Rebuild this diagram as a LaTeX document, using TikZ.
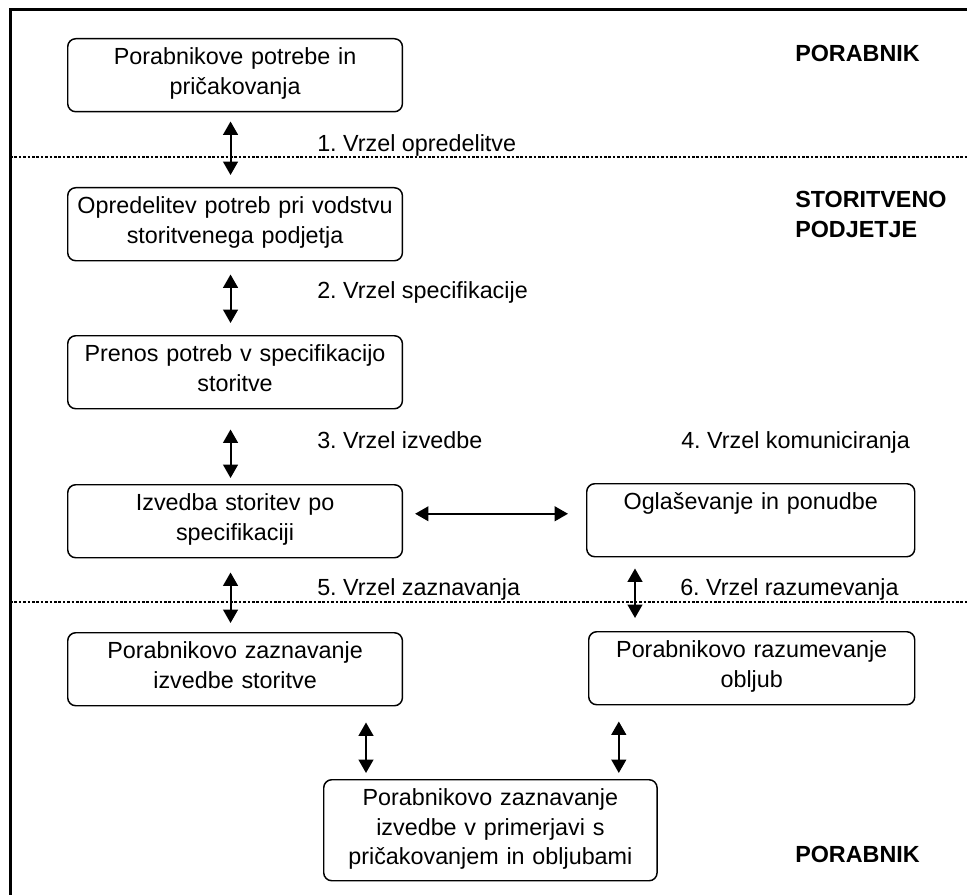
\documentclass[tikz,border=0pt]{standalone}
\usepackage{fontspec}
\setmainfont{Liberation Sans}
\usetikzlibrary{arrows.meta}
\frenchspacing

\tikzset{
  stage/.style={draw, rounded corners=6pt, line width=1.1pt, anchor=north west,
    inner xsep=0pt, inner ysep=0pt, align=center, text width=251pt,
    text height=19.5pt, text depth=35.25pt, font=\fontsize{17.5}{22}\selectfont},
  gaplabel/.style={anchor=base west, inner sep=0pt, font=\fontsize{17.5}{22}\selectfont},
  side/.style={anchor=base west, align=left, text width=140pt, inner sep=0pt,
    font=\fontsize{17.5}{23}\selectfont\bfseries},
  gap/.style={{Triangle[width=11pt,length=10pt]}-{Triangle[width=11pt,length=10pt]}, line width=1.5pt},
  boundary/.style={line width=2pt, dash pattern=on 2pt off 1.3pt},
}

\begin{document}
\begin{tikzpicture}[x=0.75pt, y=-0.75pt]
  \useasboundingbox (0,0) rectangle (967,895);

  % frame and the two dotted boundaries
  \draw[line width=2.25pt] (10,895) -- (10,10) -- (967,10);
  \draw[boundary] (10,157) -- (967,157);
  \draw[boundary] (10,602) -- (967,602);

  % left column
  \node[stage] (b1) at (67,38) {Porabnikove potrebe in\\pričakovanja};
  \node[stage] (b2) at (67,187) {Opredelitev potreb pri vodstvu\\storitvenega podjetja};
  \node[stage] (b3) at (67,335) {Prenos potreb v specifikacijo\\storitve};
  \node[stage] (b4) at (67,484) {Izvedba storitev po\\specifikaciji};
  \node[stage] (b5) at (67,632) {Porabnikovo zaznavanje\\izvedbe storitve};

  % right column and bottom
  \node[stage, text width=246pt] (b6) at (586,483) {Oglaševanje in ponudbe};
  \node[stage, text width=244.5pt] (b7) at (588,631) {Porabnikovo razumevanje\\obljub};
  \node[stage, text width=250pt, text depth=56.25pt] (b8) at (323,779)
    {Porabnikovo zaznavanje\\izvedbe v primerjavi s\\pričakovanjem in obljubami};

  % gap labels
  \node[gaplabel] (g1) at (317,152) {1. Vrzel opredelitve};
  \node[gaplabel] (g2) at (317,298) {2. Vrzel specifikacije};
  \node[gaplabel] (g3) at (317,448) {3. Vrzel izvedbe};
  \node[gaplabel] (g4) at (681,448) {4. Vrzel komuniciranja};
  \node[gaplabel] (g5) at (317,595) {5. Vrzel zaznavanja};
  \node[gaplabel] (g6) at (680,595) {6. Vrzel razumevanja};

  % side labels
  \node[side] (s1) at (795,62) {PORABNIK};
  \node[side] (s2) at (795,207) {STORITVENO\\PODJETJE};
  \node[side] (s3) at (795,862) {PORABNIK};

  % arrows
  \draw[gap, shorten <=6.75pt, shorten >=9pt] ([xshift=-3.4pt]b1.south) -- ([xshift=-3.4pt]b2.north);
  \draw[gap, shorten <=9.75pt, shorten >=9pt] ([xshift=-3.4pt]b2.south) -- ([xshift=-3.4pt]b3.north);
  \draw[gap, shorten <=15pt, shorten >=4.5pt] ([xshift=-3.4pt]b3.south) -- ([xshift=-3.4pt]b4.north);
  \draw[gap, shorten <=10.5pt, shorten >=6.75pt] ([xshift=-3.4pt]b4.south) -- ([xshift=-3.4pt]b5.north);
  \draw[gap, shorten <=9pt, shorten >=13.5pt] ([yshift=5.6pt]b4.east) -- ([yshift=5.6pt]b4.east -| b6.west);
  \draw[gap, shorten <=8.25pt, shorten >=9.75pt] ([xshift=36.75pt]b6.south west) -- ([xshift=36.75pt]b6.south west |- b7.north);
  \draw[gap, shorten <=12pt, shorten >=4.5pt] ([xshift=32.25pt]b8.north west |- b5.south) -- ([xshift=32.25pt]b8.north west);
  \draw[gap, shorten <=12pt, shorten >=4.5pt] ([xshift=-29.25pt]b8.north east |- b7.south) -- ([xshift=-29.25pt]b8.north east);
\end{tikzpicture}
\end{document}
